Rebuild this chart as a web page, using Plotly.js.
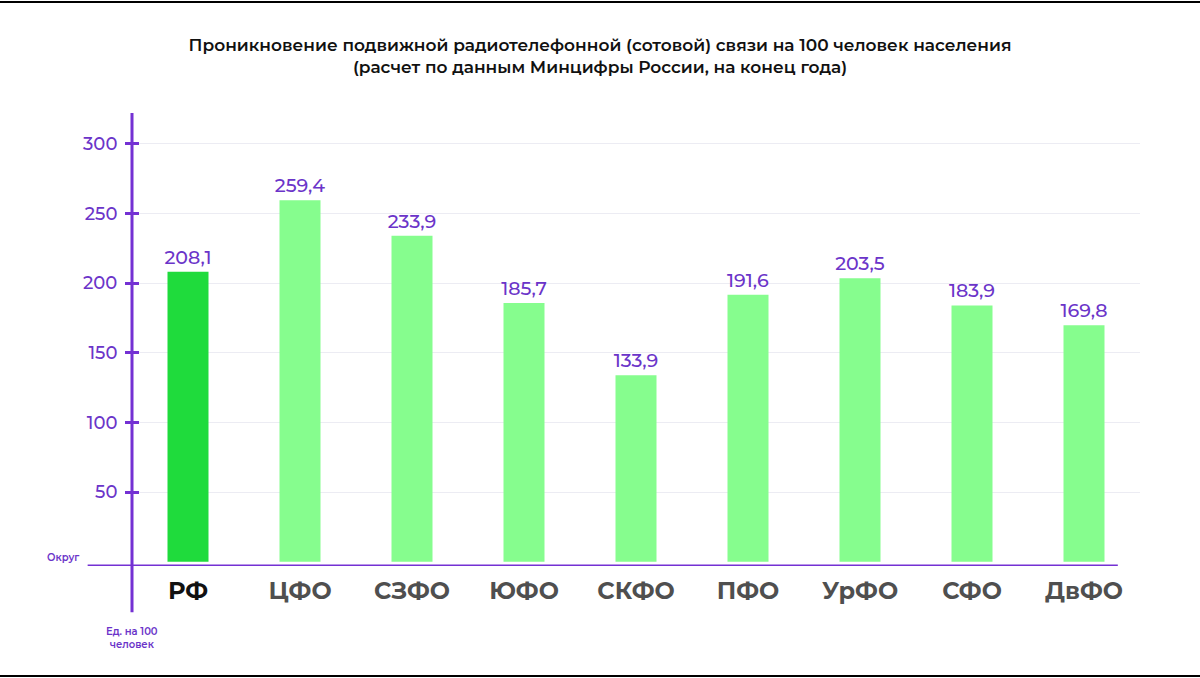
<!DOCTYPE html>
<html><head><meta charset="utf-8">
<script src="https://cdn.plot.ly/plotly-3.0.1.min.js"></script>
<style>html,body{margin:0;padding:0;background:#fff}#chart{width:1200px;height:678px}</style>
</head><body><div id="chart"></div>
<script>
const categories = ["РФ","ЦФО","СЗФО","ЮФО","СКФО","ПФО","УрФО","СФО","ДвФО"];
const values = [208.1,259.4,233.9,185.7,133.9,191.6,203.5,183.9,169.8];
const yTicks = [50,100,150,200,250,300];
const titleLines = ["Проникновение подвижной радиотелефонной (сотовой) связи на 100 человек населения","(расчет по данным Минцифры России, на конец года)"];

const purple = "#7431d3";
const purpleText = "#6b34c9";
const font = "Montserrat, Inter, 'Open Sans', sans-serif";

const barColors = categories.map((c,i)=> i===0 ? "#1fdb3c" : "#86fd8e");
const labels = values.map(v => v.toFixed(1).replace(".", ","));
const tickText = categories.map((c,i)=> i===0 ? '<span style="color:#111">'+c+'</span>' : c);

const trace = {
  type: "bar", x: categories, y: values,
  marker: {color: barColors},
  text: labels, textposition: "outside", cliponaxis: false, constraintext: "none",
  textfont: {family: font, size: 19, color: purpleText, weight: 500},
  hoverinfo: "skip"
};
const overlay = {type:"scatter", x: [categories[0]], y:[0], yaxis:"y2", mode:"markers", marker:{opacity:0}, hoverinfo:"skip", showlegend:false};

const layout = {
  width: 1200, height: 678,
  margin: {l:132, r:60, t:113, b:112},
  paper_bgcolor: "#fff", plot_bgcolor: "#fff",
  showlegend: false,
  bargap: 0.634,
  title: {text: titleLines.join("<br>"), x: 0.5, xanchor: "center", y: 0.925, yanchor: "top",
    font: {family: font, size: 17, color: "#111", weight: 600}},
  xaxis: {type:"category", categoryorder:"array", categoryarray: categories,
    tickvals: categories, ticktext: tickText,
    showline:false, ticks:"", showgrid:false, zeroline:false,
    tickfont:{family: font, size: 24, color:"#4f4f4f", weight: 700}, ticklabelstandoff: 8, fixedrange:true},
  yaxis: {range:[-3,322], tickvals: yTicks, ticktext: yTicks.map(String),
    showgrid:true, gridcolor:"#ececf3", gridwidth:1, zeroline:false,
    showline:false, ticks:"outside", ticklen:6, tickwidth:3, tickcolor: purple,
    tickfont:{family: font, size: 18, color: purpleText, weight: 500}, ticklabelstandoff: 4, fixedrange:true},
  yaxis2: {overlaying:"y", range:[-3,322], tickvals: yTicks, showticklabels:false,
    ticks:"inside", ticklen:7, tickwidth:3, tickcolor: purple, showgrid:false, zeroline:false, showline:false, fixedrange:true},
  shapes: [
    {type:"line", xref:"paper", yref:"paper", x0:0, x1:0, y0:-0.102, y1:1, line:{color:purple, width:3}},
    {type:"line", xref:"paper", yref:"y", x0:-0.044, x1:0.978, y0:-3, y1:-3, line:{color:purple, width:3}},
    {type:"line", xref:"paper", yref:"paper", x0:-0.14, x1:1.07, y0:1.245, y1:1.245, line:{color:"#000", width:2}},
    {type:"line", xref:"paper", yref:"paper", x0:-0.14, x1:1.07, y0:-0.243, y1:-0.243, line:{color:"#000", width:2}}
  ],
  annotations: [
    {text:"Округ", xref:"paper", yref:"y", x:-0.068, y:-3, xanchor:"center", yanchor:"bottom", showarrow:false,
      font:{family:font, size:10, color:purpleText, weight:600}},
    {text:"Ед. на 100<br>человек", xref:"paper", yref:"paper", x:0, y:-0.125, xanchor:"center", yanchor:"top", showarrow:false,
      font:{family:font, size:10, color:purpleText, weight:600}}
  ]
};
Plotly.newPlot("chart", [trace, overlay], layout, {displayModeBar:false, staticPlot:true});
</script></body></html>
